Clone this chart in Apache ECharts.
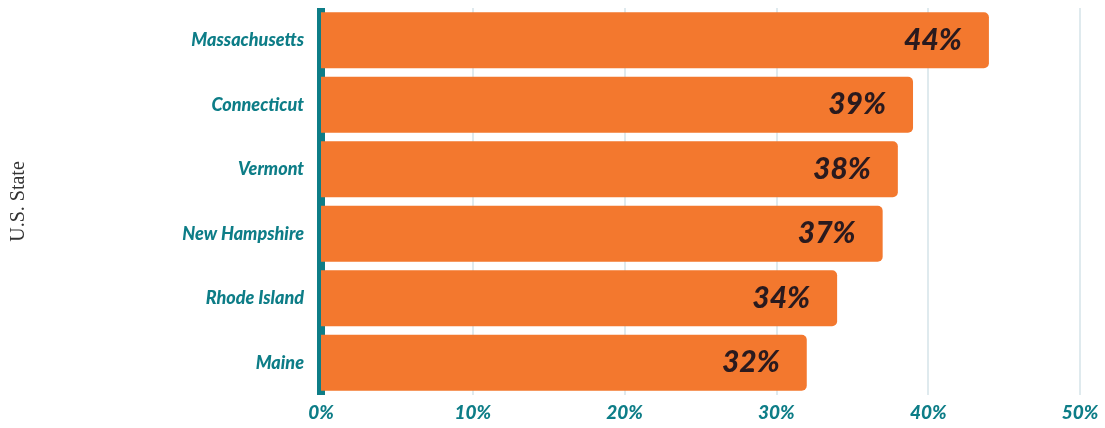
<!DOCTYPE html>
<html><head><meta charset="utf-8">
<script src="https://cdn.jsdelivr.net/npm/echarts@6/dist/echarts.min.js"></script>
<style>html,body{margin:0;padding:0;background:#fff}#c{width:1105px;height:428px}</style>
</head><body><div id="c"></div>
<script>
const states = ["Massachusetts","Connecticut","Vermont","New Hampshire","Rhode Island","Maine"];
const values = [44,39,38,37,34,32];
const xTicks = [0,10,20,30,40,50];
const teal = "#0d7d87", orange = "#f3782e";
const chart = echarts.init(document.getElementById('c'));
chart.setOption({
  animation:false,
  grid:{left:321,right:25,top:8,bottom:33},
  xAxis:{type:'value',min:xTicks[0],max:xTicks[xTicks.length-1],interval:10,
    axisLine:{show:false},axisTick:{show:false},
    splitLine:{show:true,lineStyle:{color:'#d5e3e8',width:1.5}},
    axisLabel:{formatter:v=>v+'%',color:teal,fontFamily:'Lato',fontWeight:900,fontStyle:'italic',fontSize:19,margin:8}},
  yAxis:{type:'category',data:states,inverse:true,offset:4,
    name:'U.S. State',nameLocation:'middle',nameGap:288,nameRotate:90,
    nameTextStyle:{fontFamily:'Liberation Serif',fontSize:20,color:'#333'},
    axisLine:{show:true,lineStyle:{color:teal,width:8,cap:'butt'}},axisTick:{show:false},
    axisLabel:{color:teal,fontFamily:'Lato',fontWeight:900,fontStyle:'italic',fontSize:18,margin:13}},
  series:[{type:'bar',data:values,barWidth:56,
    itemStyle:{color:orange,borderRadius:[0,5,5,0]},
    label:{show:true,position:'insideRight',offset:[-22,0],formatter:p=>p.value+'%',
      color:'#2a1a1e',fontFamily:'Lato',fontWeight:900,fontStyle:'italic',fontSize:30}}]
});
</script></body></html>
